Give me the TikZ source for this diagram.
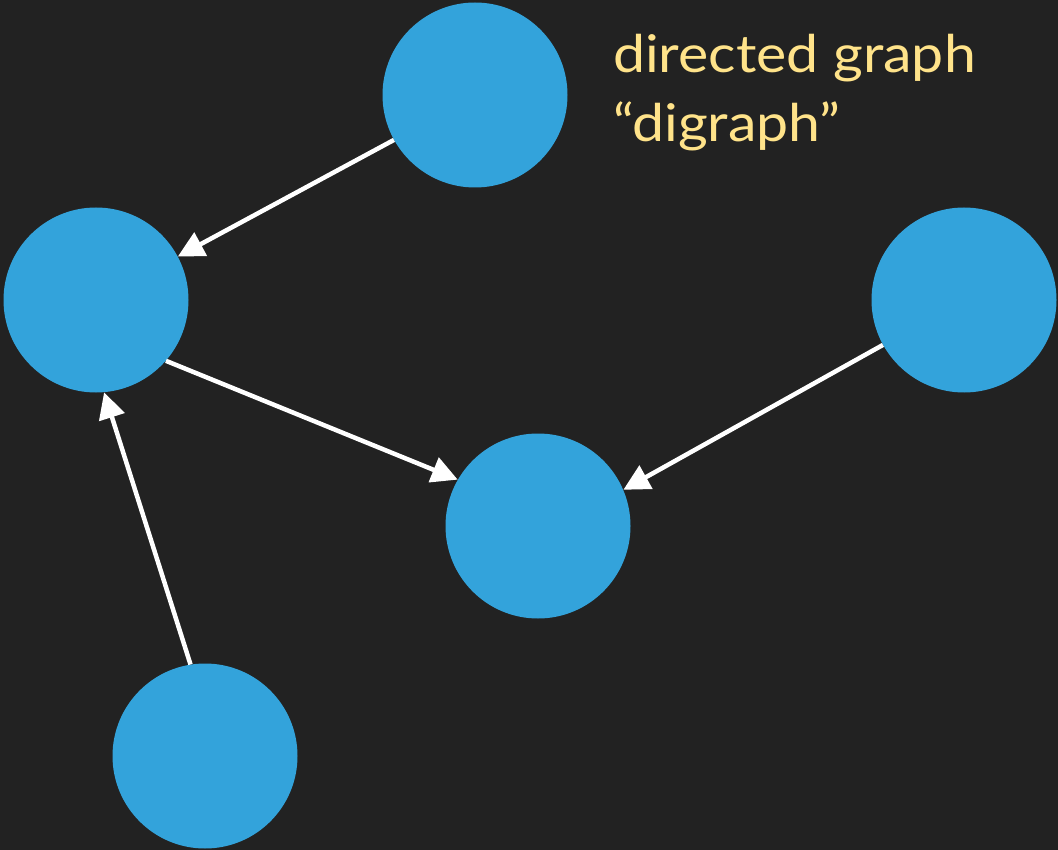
\documentclass[tikz,border=0pt]{standalone}
\usepackage{fontspec}
\setmainfont{Lato}
\newfontfamily\notefont[FakeStretch=1.1]{Lato}
\usetikzlibrary{arrows.meta}
\definecolor{bg}{HTML}{222222}
\definecolor{vert}{HTML}{33A3DB}
\definecolor{note}{HTML}{FFE38A}
\begin{document}
\begin{tikzpicture}[x=1pt,y=-1pt,
  vtx/.style={circle,fill=vert,minimum size=185pt,inner sep=0pt},
  edge/.style={draw=white,line width=4.5pt,-{Triangle[length=26pt,width=26pt]}},
  caption/.style={anchor=base west,inner sep=0pt,text=note,font=\notefont\fontsize{52}{70}\selectfont}]
\fill[bg] (0,0) rectangle (1058,850);
\useasboundingbox (0,0) rectangle (1058,850);
% vertices
\node[vtx] (a) at (475,95) {};
\node[vtx] (b) at (96,300) {};
\node[vtx] (c) at (964,300) {};
\node[vtx] (d) at (538,526) {};
\node[vtx] (e) at (205,756) {};
% directed edges
\draw[edge] (a.209) -- (b.28);
\draw[edge] (b.-41) -- (d.150);
\draw[edge] (c.209) -- (d.23);
\draw[edge] (e.99) -- (b.-85);
% caption
\node[caption] (t1) at (613,73) {directed graph};
\node[caption] (t2) at (613,142) {“digraph”};
\end{tikzpicture}
\end{document}
